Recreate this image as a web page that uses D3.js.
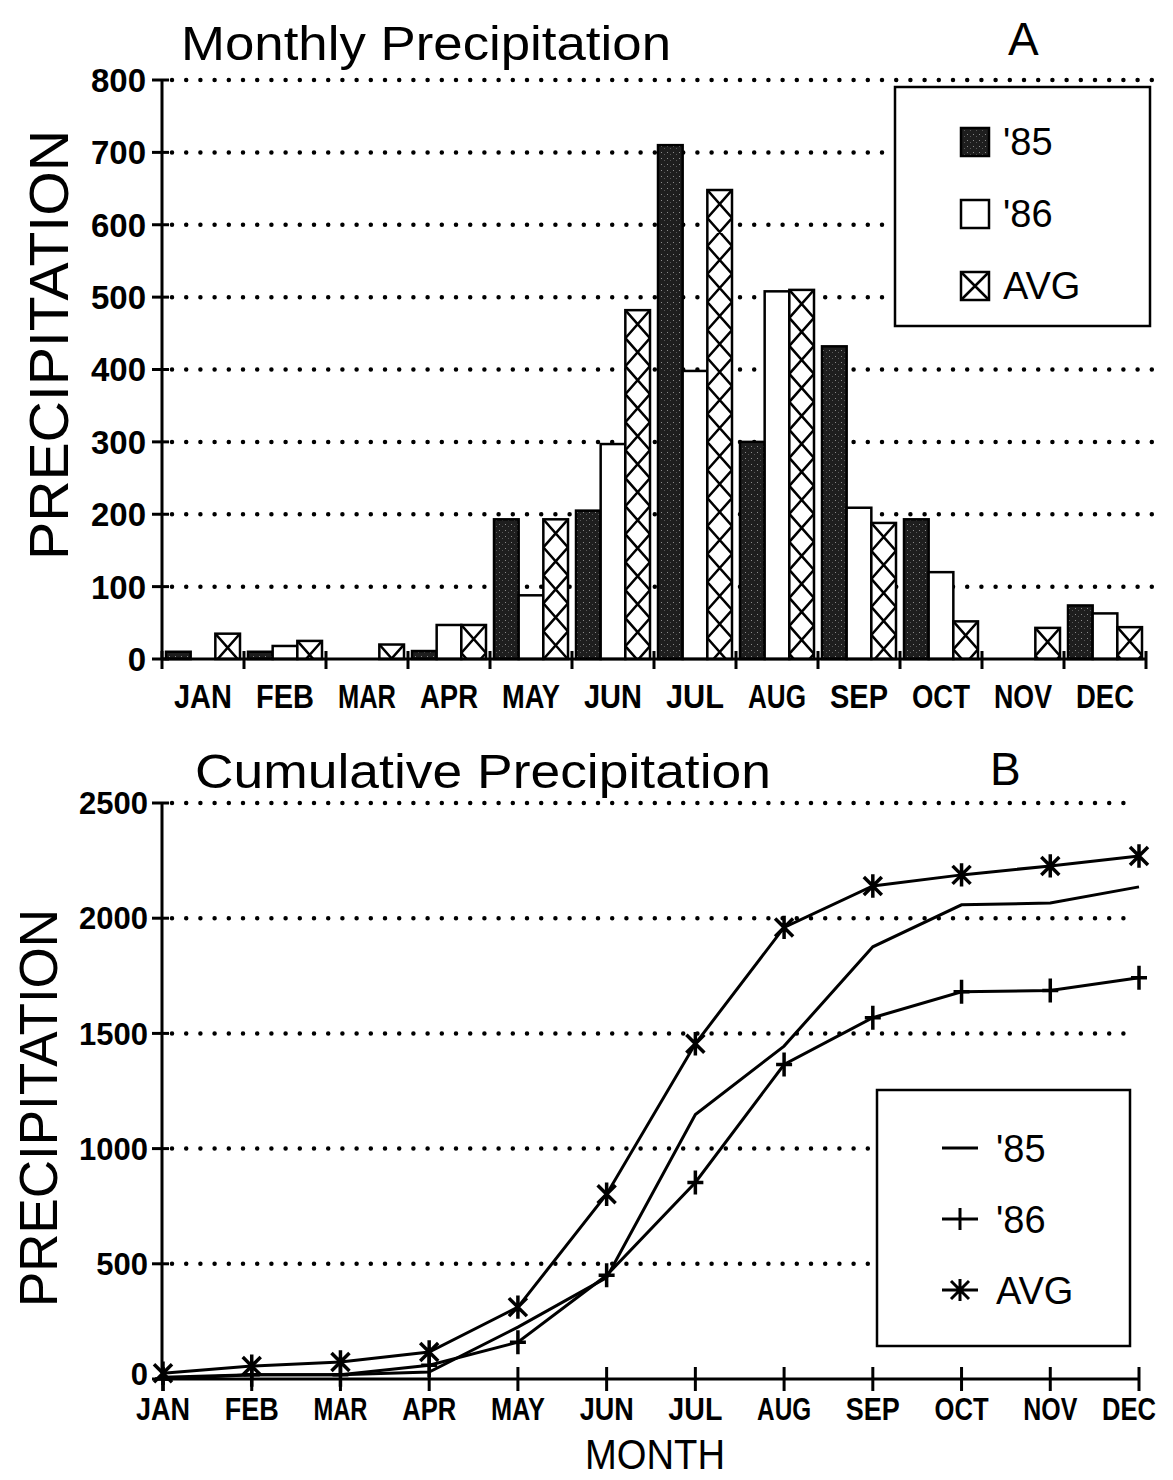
<!DOCTYPE html>
<html>
<head>
<meta charset="utf-8">
<script src="https://cdn.jsdelivr.net/npm/d3@7"></script>
<style>
  body { margin: 0; background: #fff; }
  text { font-family: 'Liberation Sans', Arial, sans-serif; fill: #000; }
</style>
</head>
<body>
<script>
const months = ['JAN', 'FEB', 'MAR', 'APR', 'MAY', 'JUN', 'JUL', 'AUG', 'SEP', 'OCT', 'NOV', 'DEC']
const seriesNames = ["'85", "'86", 'AVG']

// panel A, monthly totals
const monthly85 = [10, 10, 0, 11, 193, 205, 710, 300, 432, 193, 0, 74]
const monthly86 = [0, 18, 0, 47, 88, 297, 398, 508, 209, 120, 0, 63]
const monthlyAvg = [35, 25, 20, 47, 193, 482, 648, 510, 188, 52, 43, 44]

// panel B, cumulative totals
const cum85 = [8, 18, 18, 30, 225, 440, 1148, 1445, 1876, 2058, 2066, 2136]
const cum86 = [0, 18, 18, 60, 160, 450, 853, 1365, 1568, 1681, 1686, 1742]
const cumAvg = [25, 56, 74, 117, 312, 802, 1455, 1960, 2140, 2188, 2227, 2270]

const ticksA = [0, 100, 200, 300, 400, 500, 600, 700, 800]
const ticksB = [0, 500, 1000, 1500, 2000, 2500]

const svg = d3.select('body')
    .append('svg')
        .attr('width', 1173)
        .attr('height', 1480)

const defs = svg.append('defs')

// speckled dark fill for '85
const stipple = defs.append('pattern')
    .attr('id', 'stipple')
    .attr('patternUnits', 'userSpaceOnUse')
    .attr('width', 6)
    .attr('height', 6)
stipple.append('rect').attr('width', 6).attr('height', 6).attr('fill', '#1e1e1e')
stipple.append('rect').attr('x', 1).attr('y', 2).attr('width', 1).attr('height', 1).attr('fill', '#8a8a8a')
stipple.append('rect').attr('x', 4).attr('y', 4).attr('width', 1).attr('height', 1).attr('fill', '#5a5a5a')

const hatchPath = (x0, x1, yTop, yBot, h) => {
    const p = d3.path()
    for (let y = yTop; y < yBot; y += h) {
        p.moveTo(x0, y); p.lineTo(x1, y + h)
        p.moveTo(x1, y); p.lineTo(x0, y + h)
    }
    return p.toString()
}

const dotted = (g, x1, x2, y) => {
    g.append('line')
        .attr('x1', x1).attr('x2', x2)
        .attr('y1', y).attr('y2', y)
        .attr('stroke', '#000')
        .attr('stroke-width', 4.5)
        .attr('stroke-linecap', 'round')
        .attr('stroke-dasharray', '0 14.2')
}

/* ---------------- panel A ---------------- */
const xA = d3.scaleBand().domain(months).range([162, 1146]).padding(0)
const xSub = d3.scaleBand().domain(seriesNames).range([4, 78])
const yA = d3.scaleLinear().domain([0, 800]).range([659, 80])

const gA = svg.append('g')

ticksA.filter(t => t > 0).forEach(t => dotted(gA, 172, t >= 500 && t <= 700 ? 890 : 1155, yA(t)))

const barData = months.map((m, i) => [
    { month: m, key: "'85", value: monthly85[i] },
    { month: m, key: "'86", value: monthly86[i] },
    { month: m, key: 'AVG', value: monthlyAvg[i] }
]).flat()

const bars = gA.selectAll('.bar')
    .data(barData.filter(d => d.value > 0))
    .enter()
    .append('g')

bars.append('rect')
    .attr('x', d => xA(d.month) + xSub(d.key))
    .attr('y', d => yA(d.value))
    .attr('width', xSub.bandwidth())
    .attr('height', d => yA(0) - yA(d.value))
    .attr('fill', d => d.key === "'85" ? 'url(#stipple)' : '#fff')
    .attr('stroke', '#000')
    .attr('stroke-width', 2.5)

const avgBars = barData.filter(d => d.key === 'AVG' && d.value > 0)
avgBars.forEach((d, i) => {
    const x0 = xA(d.month) + xSub(d.key)
    const x1 = x0 + xSub.bandwidth()
    defs.append('clipPath')
        .attr('id', 'clip-avg-' + i)
        .append('rect')
            .attr('x', x0).attr('y', yA(d.value))
            .attr('width', xSub.bandwidth()).attr('height', yA(0) - yA(d.value))
    gA.append('path')
        .attr('d', hatchPath(x0, x1, yA(d.value), yA(0), 28))
        .attr('clip-path', `url(#clip-avg-${i})`)
        .attr('fill', 'none')
        .attr('stroke', '#000')
        .attr('stroke-width', 2.5)
})

// axes
gA.append('line').attr('x1', 162).attr('x2', 162).attr('y1', yA(800)).attr('y2', yA(0))
    .attr('stroke', '#000').attr('stroke-width', 3)
gA.append('line').attr('x1', 162).attr('x2', 1147).attr('y1', yA(0)).attr('y2', yA(0))
    .attr('stroke', '#000').attr('stroke-width', 3)

gA.selectAll('.ytick')
    .data(ticksA)
    .enter()
    .append('line')
        .attr('x1', 152).attr('x2', 169)
        .attr('y1', d => yA(d)).attr('y2', d => yA(d))
        .attr('stroke', '#000').attr('stroke-width', 3)

gA.selectAll('.ylabel')
    .data(ticksA)
    .enter()
    .append('text')
        .attr('x', 146)
        .attr('y', d => yA(d))
        .attr('dy', '0.36em')
        .attr('text-anchor', 'end')
        .style('font-size', '33px')
        .style('font-weight', 'bold')
        .text(d => d)

gA.selectAll('.xtick')
    .data(months.concat(['end']))
    .enter()
    .append('line')
        .attr('x1', d => d === 'end' ? 1146 : xA(d))
        .attr('x2', d => d === 'end' ? 1146 : xA(d))
        .attr('y1', yA(0) - 8).attr('y2', yA(0) + 10)
        .attr('stroke', '#000').attr('stroke-width', 3)

gA.selectAll('.xlabel')
    .data(months)
    .enter()
    .append('text')
        .attr('x', d => xA(d) + xA.bandwidth() / 2)
        .attr('y', 708)
        .attr('text-anchor', 'middle')
        .attr('textLength', 58)
        .attr('lengthAdjust', 'spacingAndGlyphs')
        .style('font-size', '33px')
        .style('font-weight', 'bold')
        .text(d => d)

gA.append('text').attr('x', 181).attr('y', 60)
    .attr('textLength', 490).attr('lengthAdjust', 'spacingAndGlyphs')
    .style('font-size', '49px').text('Monthly Precipitation')
gA.append('text').attr('x', 1008).attr('y', 55).style('font-size', '46px').text('A')
gA.append('text')
    .attr('transform', 'translate(68, 345) rotate(-90)')
    .attr('text-anchor', 'middle')
    .attr('textLength', 430).attr('lengthAdjust', 'spacingAndGlyphs')
    .style('font-size', '55px')
    .text('PRECIPITATION')

// legend A
const legA = gA.append('g')
legA.append('rect').attr('x', 895).attr('y', 87).attr('width', 255).attr('height', 239)
    .attr('fill', '#fff').attr('stroke', '#000').attr('stroke-width', 2.5)
seriesNames.forEach((s, i) => {
    const y = 128 + i * 72
    legA.append('rect').attr('x', 961).attr('y', y).attr('width', 28).attr('height', 28)
        .attr('fill', i === 0 ? 'url(#stipple)' : '#fff').attr('stroke', '#000').attr('stroke-width', 2.5)
    if (i === 2) {
        legA.append('path').attr('d', hatchPath(961, 989, y, y + 28, 28))
            .attr('fill', 'none').attr('stroke', '#000').attr('stroke-width', 2.5)
    }
    legA.append('text').attr('x', 1003).attr('y', y + 27).style('font-size', '38px').text(s)
})

/* ---------------- panel B ---------------- */
const xB = d3.scalePoint().domain(months).range([163, 1139])
const yB = d3.scaleLinear().domain([0, 2500]).range([1379, 803])

const gB = svg.append('g')

ticksB.filter(t => t > 0).forEach(t => dotted(gB, 172, t === 1000 ? 875 : 1130, yB(t)))

gB.append('line').attr('x1', 162).attr('x2', 162).attr('y1', yB(2500)).attr('y2', yB(0))
    .attr('stroke', '#000').attr('stroke-width', 3)
gB.append('line').attr('x1', 162).attr('x2', 1140).attr('y1', yB(0)).attr('y2', yB(0))
    .attr('stroke', '#000').attr('stroke-width', 3)

gB.selectAll('.ytick')
    .data(ticksB)
    .enter()
    .append('line')
        .attr('x1', 152).attr('x2', 169)
        .attr('y1', d => yB(d)).attr('y2', d => yB(d))
        .attr('stroke', '#000').attr('stroke-width', 3)

gB.selectAll('.ylabel')
    .data(ticksB)
    .enter()
    .append('text')
        .attr('x', 148)
        .attr('y', d => yB(d))
        .attr('dy', d => d === 0 ? '0.18em' : '0.36em')
        .attr('text-anchor', 'end')
        .style('font-size', '31px')
        .style('font-weight', 'bold')
        .text(d => d)

gB.selectAll('.xtick')
    .data(months)
    .enter()
    .append('line')
        .attr('x1', d => xB(d)).attr('x2', d => xB(d))
        .attr('y1', yB(0) - 12).attr('y2', yB(0) + 12)
        .attr('stroke', '#000').attr('stroke-width', 3)

gB.selectAll('.xlabel')
    .data(months)
    .enter()
    .append('text')
        .attr('x', d => d === 'DEC' ? xB(d) - 10 : xB(d))
        .attr('y', 1420)
        .attr('text-anchor', 'middle')
        .attr('textLength', 54)
        .attr('lengthAdjust', 'spacingAndGlyphs')
        .style('font-size', '31px')
        .style('font-weight', 'bold')
        .text(d => d)

const line = d3.line().x((d, i) => xB(months[i])).y(d => yB(d))

const asterisk = s => `M${-s},${-s}L${s},${s}M${s},${-s}L${-s},${s}M0,${-s * 1.3}L0,${s * 1.3}`
const plus = 'M0,-12L0,12M-8,0L8,0'

const lineSeries = [
    { values: cum85, marker: null },
    { values: cum86, marker: plus },
    { values: cumAvg, marker: asterisk(9) }
]

lineSeries.forEach(s => {
    gB.append('path')
        .attr('d', line(s.values))
        .attr('fill', 'none')
        .attr('stroke', '#000')
        .attr('stroke-width', 3)
    if (s.marker) {
        gB.selectAll(null)
            .data(s.values)
            .enter()
            .append('path')
                .attr('transform', (d, i) => `translate(${xB(months[i])}, ${yB(d)})`)
                .attr('d', s.marker)
                .attr('fill', 'none')
                .attr('stroke', '#000')
                .attr('stroke-width', 3.5)
    }
})

gB.append('text').attr('x', 195).attr('y', 788)
    .attr('textLength', 576).attr('lengthAdjust', 'spacingAndGlyphs')
    .style('font-size', '49px').text('Cumulative Precipitation')
gB.append('text').attr('x', 990).attr('y', 785).style('font-size', '46px').text('B')
gB.append('text')
    .attr('transform', 'translate(57, 1108) rotate(-90)')
    .attr('text-anchor', 'middle')
    .attr('textLength', 398).attr('lengthAdjust', 'spacingAndGlyphs')
    .style('font-size', '53px')
    .text('PRECIPITATION')
gB.append('text').attr('x', 655).attr('y', 1469)
    .attr('text-anchor', 'middle')
    .attr('textLength', 140).attr('lengthAdjust', 'spacingAndGlyphs')
    .style('font-size', '42px')
    .text('MONTH')

// legend B
const legB = gB.append('g')
legB.append('rect').attr('x', 877).attr('y', 1090).attr('width', 253).attr('height', 256)
    .attr('fill', '#fff').attr('stroke', '#000').attr('stroke-width', 2.5)
const legSymbols = [
    'M-18,0L18,0',
    'M-18,0L18,0M0,-11L0,11',
    'M-18,0L18,0M-9,-9L9,9M9,-9L-9,9M0,-11L0,11'
]
seriesNames.forEach((s, i) => {
    const y = 1148 + i * 71
    legB.append('path').attr('transform', `translate(960, ${y})`).attr('d', legSymbols[i])
        .attr('fill', 'none').attr('stroke', '#000').attr('stroke-width', 3)
    legB.append('text').attr('x', 996).attr('y', y + 14).style('font-size', '38px').text(s)
})
</script>
</body>
</html>
